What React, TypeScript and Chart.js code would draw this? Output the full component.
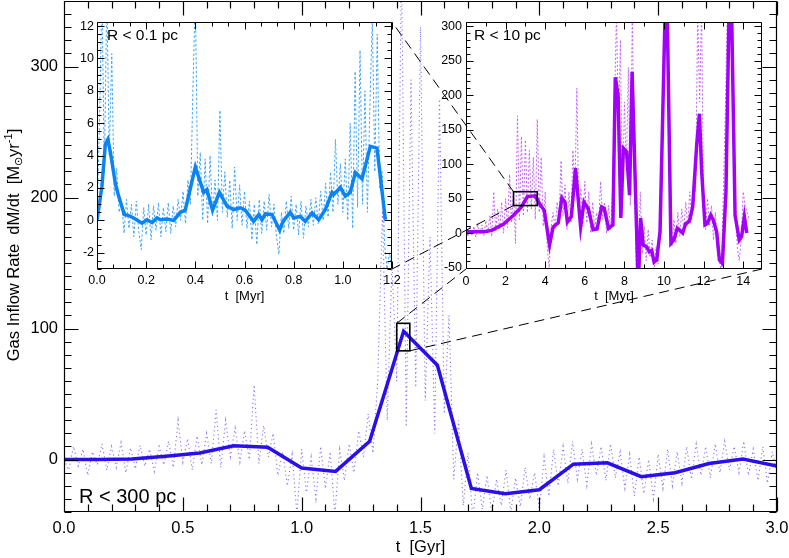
import React, { useEffect, useRef } from "react";
import { Chart, registerables } from "chart.js";

Chart.register(...registerables);

const FONT = "'Liberation Sans', Arial, Helvetica, sans-serif";

// ---------------- data ----------------
// Main panel: R < 300 pc, t in Gyr
const MAIN_DT = 0.02;
const mainRaw = [
  0, -8, 10, -5, 8, -12, 6, -4, 12, -8,
  10, -6, 13, -10, 9, -7, 11, -5, 8, -9,
  10, -4, 14, -6, 30, -2, 16, -8, 18, -4,
  20, -3, 38, -6, 30, 2, 24, -2, 22, 0,
  57, -3, 26, 2, 20, -12, 6, -20, 4, -42,
  8, -25, 2, -30, 10, -22, 6, -42, 8, -16,
  12, -10, 22, 2, 35, 5, 60, 190, 30, 150,
  60, 380, 25, 290, 55, 330, 45, 170, 20, 275,
  35, 110, -15, 30, -35, 5, -45, -10, -38, -12,
  -42, -15, -35, -8, -40, -14, -36, -6, -30, -10,
  -38, 2, -28, 8, -20, 10, -18, 14, -15, 8,
  -20, 12, -12, 10, -16, 12, -14, 6, -22, 4,
  -28, 2, -26, 0, -30, 4, -22, 8, -20, 6,
  -18, 10, -15, 12, -12, 10, -14, 12, -10, 14,
  -8, 10, -10, 14, -12, 8, -16, 10, -18, 6,
  -10,
];
const mainT = [0, 0.143, 0.286, 0.429, 0.571, 0.714, 0.857, 1.0, 1.143, 1.286, 1.429, 1.571, 1.714, 1.857, 2.0, 2.143, 2.286, 2.429, 2.571, 2.714, 2.857, 3.0];
const mainAvg = [0, 0, 0.5, 2.5, 5, 10.5, 9.5, -6.5, -9, 14, 98, 72, -22, -26, -23, -3.5, -2.5, -13, -10, -3, 0.5, -5];
const mainXTicks = [0, 0.5, 1.0, 1.5, 2.0, 2.5, 3.0];
const mainYTicks = [0, 100, 200, 300];
const mainZoomBox = [1.40, 1.455, 83, 104]; // x0, x1, y0, y1

// Inset 1: R < 0.1 pc, t in Myr
const IN1_DT = 0.01;
const in1Raw = [
  0, 6, 14, 3, 14, 4, 10.3, 1.5, 3.2, 0.5,
  1.2, -0.8, 1.3, -0.5, 1, -1, 1.2, -0.7, -1.8, 0.8,
  -0.9, 1, -1.2, 0.9, -0.6, 1.1, -1, 0.8, -0.7, 1.1,
  -0.8, 0.9, -0.4, 1.3, 0, 1.8, -0.2, 2.5, 1, 8,
  14, 1.5, 4.2, 0, 3.8, -0.2, 4, 0.3, 2.5, 0,
  6.8, 0.5, 3, 0.2, 2.5, -0.5, 3.3, 0, 2.2, -0.3,
  1.8, -0.5, 1.2, -1.2, 1, -1.5, 1.3, -0.8, 1.2, -0.6,
  1.6, -0.4, 1, -1, -2.1, 0.5, -0.8, 1.2, -0.5, 1.5,
  -0.6, 1, -0.9, 1.2, -1.1, 0.9, -0.4, 1.3, -0.3, 1.4,
  -0.2, 1.8, 0, 2.3, 0.2, 3, 0.5, 5, 1, 3.5,
  0.5, 3.8, 0, 6, -0.5, 9.2, 0.8, 10.5, 1, 8,
  0.5, 7, 12.5, 3, 11.5, 2, 3, -1.5, -3, -2,
  -3,
];
const in1T = [0, 0.02, 0.034, 0.044, 0.054, 0.075, 0.088, 0.111, 0.129, 0.149, 0.183, 0.203, 0.224, 0.244, 0.258, 0.285, 0.312, 0.339, 0.359, 0.40, 0.434, 0.447, 0.47, 0.498, 0.529, 0.556, 0.583, 0.603, 0.637, 0.658, 0.671, 0.685, 0.712, 0.743, 0.757, 0.786, 0.80, 0.827, 0.847, 0.875, 0.902, 0.929, 0.956, 0.963, 0.99, 1.01, 1.03, 1.051, 1.078, 1.112, 1.139, 1.173];
const in1Avg = [0, 2.1, 4.7, 5.0, 4.25, 2.25, 1.5, 0.36, 0.3, 0.15, -0.17, 0.04, -0.13, 0.15, 0.04, 0.08, 0, 0.5, 0.63, 3.3, 1.73, 1.9, 0.63, 1.73, 0.88, 0.67, 0.78, 0.63, -0.06, 0.36, 0.04, 0.4, 0.36, -0.6, -0.06, 0.5, 0.15, 0.25, -0.06, 0.46, 0.04, 0.67, 1.73, 1.6, 2.04, 1.5, 1.73, 2.95, 2.57, 4.57, 4.46, 0.04];
const in1XTicks = [0, 0.2, 0.4, 0.6, 0.8, 1.0, 1.2];
const in1YTicks = [-2, 0, 2, 4, 6, 8, 10, 12];

// Inset 2: R < 10 pc, t in Myr
const IN2_DT = 0.1;
const in2Raw = [
  5, -5, 12, -3, 10, -6, 14, -2, 12, -4,
  18, 0, 25, -5, 60, 2, 35, 5, 45, 0,
  50, 8, 85, 15, 60, -15, 170, 20, 140, 25,
  135, 30, 120, 35, 110, 20, 165, 30, 110, 10,
  60, -20, -50, 10, 30, 5, 45, 20, 105, 25,
  70, 5, 60, 15, 120, 60, 210, 20, 65, 10,
  75, 15, 60, 0, 45, 5, 30, 15, 75, 20,
  45, 0, 40, 5, 60, 180, 320, 150, 280, 30,
  190, 90, 240, 40, 320, 100, -60, -70, 60, -30,
  10, -40, 5, -35, -10, -55, -20, -45, 40, 150,
  320, 380, 320, 60, -20, 20, -15, 30, -5, 35,
  5, 45, 10, 60, 20, 80, 60, 320, 190, 320,
  40, 5, 50, 10, 40, -10, 30, -30, -40, -60,
  60, 180, 320, 400, 320, 150, 40, -20, -40, -10,
  60, 40, 30, 20,
];
const in2T = [0, 0.9, 1.3, 1.9, 2.4, 2.8, 3.1, 3.5, 3.75, 3.95, 4.22, 4.4, 4.66, 4.84, 5.0, 5.12, 5.32, 5.53, 5.79, 5.96, 6.18, 6.42, 6.62, 6.85, 6.98, 7.2, 7.42, 7.54, 7.68, 7.82, 7.95, 8.11, 8.26, 8.39, 8.7, 8.82, 8.95, 9.13, 9.26, 9.38, 9.5, 9.63, 9.8, 10.12, 10.35, 10.5, 10.67, 10.8, 10.94, 11.1, 11.28, 11.45, 11.65, 11.79, 11.9, 12.07, 12.19, 12.36, 12.49, 12.66, 12.8, 12.95, 13.13, 13.35, 13.59, 13.8, 13.92, 14.06, 14.18];
const in2Avg = [2, 2, 4, 13, 26, 38, 53, 54, 41, 33, -17, 9, 15, 51, 45, 16, 24, 94, 9, 45, 35, 5, 6, 38, 36, 7, 12, 226, 200, 22, 123, 118, 55, 234, -80, 22, -17, -20, -27, -25, -42, -39, 2, 400, -15, -10, 7, 4, 0, 14, 17, 38, 127, 173, 91, 12, 14, 26, 19, 2, -39, -44, 60, 430, 26, -10, -5, 24, 0];
const in2XTicks = [0, 2, 4, 6, 8, 10, 12, 14];
const in2YTicks = [-50, 0, 50, 100, 150, 200, 250, 300];
const in2ZoomBox = [2.4, 3.6, 40, 60];

// ---------------- helpers ----------------
const sampled = (vals: number[], dt: number) => vals.map((v, i) => ({ x: +(i * dt).toFixed(4), y: v }));
const paired = (xs: number[], ys: number[]) => xs.map((x, i) => ({ x, y: ys[i] }));

function frameTicksPlugin(cfg: { major: number; minor: number; xMinor: number; yMinor: number; width: number }) {
  return {
    id: "frameTicks",
    afterDatasetsDraw(chart: any) {
      const { ctx, chartArea: a } = chart;
      const xs = chart.scales.x, ys = chart.scales.y;
      const L = Math.round(a.left) + 0.5, R = Math.round(a.right) - 0.5;
      const T = Math.round(a.top) + 0.5, B = Math.round(a.bottom) - 0.5;
      ctx.save();
      ctx.strokeStyle = "#000";
      ctx.lineWidth = cfg.width;
      ctx.setLineDash([]);
      ctx.beginPath();
      ctx.rect(L, T, R - L, B - T);
      const xMaj = xs.ticks.map((t: any) => t.value);
      const yMaj = ys.ticks.map((t: any) => t.value);
      const isMaj = (arr: number[], v: number, st: number) => arr.some((m) => Math.abs(m - v) < st * 0.05);
      const xLine = (v: number, len: number) => {
        const p = Math.round(xs.getPixelForValue(v)) + 0.5;
        ctx.moveTo(p, B); ctx.lineTo(p, B - len);
        ctx.moveTo(p, T); ctx.lineTo(p, T + len);
      };
      const yLine = (v: number, len: number) => {
        const p = Math.round(ys.getPixelForValue(v)) + 0.5;
        ctx.moveTo(L, p); ctx.lineTo(L + len, p);
        ctx.moveTo(R, p); ctx.lineTo(R - len, p);
      };
      for (let k = Math.ceil(xs.min / cfg.xMinor - 1e-6); k * cfg.xMinor <= xs.max + 1e-9; k++) {
        const v = k * cfg.xMinor;
        xLine(v, isMaj(xMaj, v, cfg.xMinor) ? cfg.major : cfg.minor);
      }
      for (let k = Math.ceil(ys.min / cfg.yMinor - 1e-6); k * cfg.yMinor <= ys.max + 1e-9; k++) {
        const v = k * cfg.yMinor;
        yLine(v, isMaj(yMaj, v, cfg.yMinor) ? cfg.major : cfg.minor);
      }
      ctx.stroke();
      ctx.restore();
    },
  };
}

function boxPlugin(box: number[] | null) {
  return {
    id: "zoomBox",
    afterDatasetsDraw(chart: any) {
      if (!box) return;
      const { ctx } = chart;
      const xs = chart.scales.x, ys = chart.scales.y;
      const x0 = xs.getPixelForValue(box[0]), x1 = xs.getPixelForValue(box[1]);
      const y0 = ys.getPixelForValue(box[2]), y1 = ys.getPixelForValue(box[3]);
      ctx.save();
      ctx.strokeStyle = "#000";
      ctx.lineWidth = 1.6;
      ctx.setLineDash([]);
      ctx.strokeRect(x0, y1, x1 - x0, y0 - y1);
      ctx.restore();
    },
  };
}

type TextItem = { text: string; pos: (a: any) => [number, number]; size: number; align?: CanvasTextAlign; baseline?: CanvasTextBaseline };
function textPlugin(items: TextItem[], extra?: (chart: any) => void) {
  return {
    id: "texts",
    afterDraw(chart: any) {
      const { ctx, chartArea: a } = chart;
      ctx.save();
      ctx.fillStyle = "#000";
      for (const it of items) {
        const [x, y] = it.pos(a);
        ctx.font = `${it.size}px ${FONT}`;
        ctx.textAlign = it.align || "left";
        ctx.textBaseline = it.baseline || "alphabetic";
        ctx.fillText(it.text, x, y);
      }
      ctx.restore();
      if (extra) extra(chart);
    },
  };
}

function drawYTitle(chart: any) {
  const { ctx } = chart;
  const big = 16.5, small = 11;
  const parts: { t: string; s: number; dy: number }[] = [
    { t: "Gas Inflow Rate  dM/dt  [M", s: big, dy: 0 },
    { t: "\u2299", s: small, dy: 3 },
    { t: "yr", s: big, dy: 0 },
    { t: "-1", s: small, dy: -7 },
    { t: "]", s: big, dy: 0 },
  ];
  ctx.save();
  let total = 0;
  const widths = parts.map((p) => {
    ctx.font = `${p.s}px ${FONT}`;
    const w = ctx.measureText(p.t).width;
    total += w;
    return w;
  });
  ctx.translate(19, 245);
  ctx.rotate(-Math.PI / 2);
  ctx.fillStyle = "#000";
  ctx.textBaseline = "alphabetic";
  ctx.textAlign = "left";
  let x = -total / 2;
  parts.forEach((p, i) => {
    ctx.font = `${p.s}px ${FONT}`;
    ctx.fillText(p.t, x, p.dy);
    x += widths[i];
  });
  ctx.restore();
}

type PanelCfg = {
  xMin: number; xMax: number; yMin: number; yMax: number;
  xTicks: number[]; yTicks: number[]; xFmt: (v: number) => string;
  tickSize: number; yAxisW: number; xAxisH: number; padTop: number; padRight: number;
  xPad: number; yPad: number;
};

function makeOptions(c: PanelCfg) {
  return {
    responsive: false,
    animation: false as const,
    devicePixelRatio: 1,
    events: [],
    layout: { padding: { top: c.padTop, right: c.padRight, left: 0, bottom: 0 } },
    plugins: { legend: { display: false }, tooltip: { enabled: false }, title: { display: false } },
    elements: { point: { radius: 0 }, line: { tension: 0 } },
    scales: {
      x: {
        type: "linear" as const,
        min: c.xMin, max: c.xMax,
        grid: { display: false, drawTicks: false },
        border: { display: false },
        ticks: {
          color: "#000", font: { family: FONT, size: c.tickSize }, padding: c.xPad,
          maxRotation: 0, autoSkip: false, callback: (v: any) => c.xFmt(Number(v)),
        },
        afterBuildTicks: (s: any) => { s.ticks = c.xTicks.map((v) => ({ value: v })); },
        afterFit: (s: any) => { s.height = c.xAxisH; s.paddingLeft = 0; s.paddingRight = 0; },
      },
      y: {
        type: "linear" as const,
        min: c.yMin, max: c.yMax,
        grid: { display: false, drawTicks: false },
        border: { display: false },
        ticks: {
          color: "#000", font: { family: FONT, size: c.tickSize }, padding: c.yPad,
          autoSkip: false, callback: (v: any) => String(Number(v)),
        },
        afterBuildTicks: (s: any) => { s.ticks = c.yTicks.map((v) => ({ value: v })); },
        afterFit: (s: any) => { s.width = c.yAxisW; s.paddingTop = 0; s.paddingBottom = 0; },
      },
    },
  };
}

const POS = {
  main: { left: 0, top: 0, w: 789, h: 558 },
  in1: { left: 60, top: 10, w: 345, h: 310 },
  in2: { left: 430, top: 10, w: 345, h: 310 },
};

export default function App() {
  const mainRef = useRef<HTMLCanvasElement>(null);
  const in1Ref = useRef<HTMLCanvasElement>(null);
  const in2Ref = useRef<HTMLCanvasElement>(null);
  const ovRef = useRef<HTMLCanvasElement>(null);

  useEffect(() => {
    const main = new Chart(mainRef.current as HTMLCanvasElement, {
      type: "line",
      data: {
        datasets: [
          { data: paired(mainT, mainAvg), borderColor: "#2a10e8", borderWidth: 3.5, pointRadius: 0, borderJoinStyle: "miter" },
          { data: sampled(mainRaw, MAIN_DT), borderColor: "rgba(95,75,240,0.75)", borderWidth: 1.1, borderDash: [1.2, 3], pointRadius: 0 },
        ],
      },
      options: makeOptions({
        xMin: 0, xMax: 3, yMin: -40, yMax: 350, xTicks: mainXTicks, yTicks: mainYTicks,
        xFmt: (v) => v.toFixed(1), tickSize: 16.5, yAxisW: 64, xAxisH: 46, padTop: 1, padRight: 12,
        xPad: 7, yPad: 6,
      }) as any,
      plugins: [
        frameTicksPlugin({ major: 14, minor: 7, xMinor: 0.1, yMinor: 10, width: 1.2 }),
        boxPlugin(mainZoomBox),
        textPlugin(
          [
            { text: "R < 300 pc", pos: (a) => [a.left + 15, a.bottom - 9], size: 20 },
            { text: "t  [Gyr]", pos: (a) => [(a.left + a.right) / 2, 552], size: 16.5, align: "center" },
          ],
          drawYTitle
        ),
      ],
    });

    const in1 = new Chart(in1Ref.current as HTMLCanvasElement, {
      type: "line",
      data: {
        datasets: [
          { data: paired(in1T, in1Avg), borderColor: "#0a84f2", borderWidth: 3.5, pointRadius: 0 },
          { data: sampled(in1Raw, IN1_DT), borderColor: "#45a6f6", borderWidth: 1, borderDash: [2.5, 2], pointRadius: 0 },
        ],
      },
      options: makeOptions({
        xMin: 0, xMax: 1.2, yMin: -3, yMax: 12.25, xTicks: in1XTicks, yTicks: in1YTicks,
        xFmt: (v) => v.toFixed(1), tickSize: 12.5, yAxisW: 37, xAxisH: 51, padTop: 12, padRight: 13,
        xPad: 4, yPad: 3,
      }) as any,
      plugins: [
        frameTicksPlugin({ major: 7, minor: 4, xMinor: 0.2 / 3, yMinor: 0.5, width: 1 }),
        textPlugin([
          { text: "R < 0.1 pc", pos: (a) => [a.left + 10, a.top + 18], size: 15.5 },
          { text: "t  [Myr]", pos: (a) => [(a.left + a.right) / 2, a.bottom + 31], size: 13, align: "center" },
        ]),
      ],
    });

    const in2 = new Chart(in2Ref.current as HTMLCanvasElement, {
      type: "line",
      data: {
        datasets: [
          { data: paired(in2T, in2Avg), borderColor: "#a300f7", borderWidth: 3.5, pointRadius: 0 },
          { data: sampled(in2Raw, IN2_DT), borderColor: "#c462f8", borderWidth: 1, borderDash: [2, 2], pointRadius: 0 },
        ],
      },
      options: makeOptions({
        xMin: 0, xMax: 14.95, yMin: -52, yMax: 306, xTicks: in2XTicks, yTicks: in2YTicks,
        xFmt: (v) => String(v), tickSize: 12.5, yAxisW: 36, xAxisH: 51, padTop: 12, padRight: 13,
        xPad: 5, yPad: 4,
      }) as any,
      plugins: [
        frameTicksPlugin({ major: 7, minor: 4, xMinor: 1, yMinor: 10, width: 1 }),
        boxPlugin(in2ZoomBox),
        textPlugin([
          { text: "R < 10 pc", pos: (a) => [a.left + 8, a.top + 18], size: 15.5 },
          { text: "t  [Myr]", pos: (a) => [(a.left + a.right) / 2, a.bottom + 31], size: 13, align: "center" },
        ]),
      ],
    });

    // dashed connector lines across panels
    const ov = ovRef.current as HTMLCanvasElement;
    const octx = ov.getContext("2d") as CanvasRenderingContext2D;
    octx.clearRect(0, 0, ov.width, ov.height);
    const pm = (x: number, y: number): [number, number] => [
      POS.main.left + main.scales.x.getPixelForValue(x),
      POS.main.top + main.scales.y.getPixelForValue(y),
    ];
    const p2 = (x: number, y: number): [number, number] => [
      POS.in2.left + in2.scales.x.getPixelForValue(x),
      POS.in2.top + in2.scales.y.getPixelForValue(y),
    ];
    const a1 = in1.chartArea, a2 = in2.chartArea;
    const lines: [[number, number], [number, number]][] = [
      [pm(mainZoomBox[0], mainZoomBox[3]), [POS.in2.left + a2.left, POS.in2.top + a2.bottom]],
      [pm(mainZoomBox[1], mainZoomBox[2]), [POS.in2.left + a2.right, POS.in2.top + a2.bottom]],
      [p2(in2ZoomBox[0], in2ZoomBox[3]), [POS.in1.left + a1.right, POS.in1.top + a1.top]],
      [p2(in2ZoomBox[0], in2ZoomBox[2]), [POS.in1.left + a1.right, POS.in1.top + a1.bottom]],
    ];
    octx.save();
    octx.strokeStyle = "#000";
    octx.lineWidth = 1;
    octx.setLineDash([10, 6]);
    for (const [s, e] of lines) {
      octx.beginPath();
      octx.moveTo(s[0], s[1]);
      octx.lineTo(e[0], e[1]);
      octx.stroke();
    }
    octx.restore();

    return () => {
      main.destroy();
      in1.destroy();
      in2.destroy();
      octx.clearRect(0, 0, ov.width, ov.height);
    };
  }, []);

  const abs = (p: { left: number; top: number; w: number; h: number }) => ({
    position: "absolute" as const, left: p.left, top: p.top, width: p.w, height: p.h,
  });

  return (
    <div style={{ position: "absolute", left: 0, top: 0, width: 789, height: 558, background: "#fff", overflow: "hidden" }}>
      <canvas ref={mainRef} width={POS.main.w} height={POS.main.h} style={abs(POS.main)} />
      <canvas ref={in1Ref} width={POS.in1.w} height={POS.in1.h} style={abs(POS.in1)} />
      <canvas ref={in2Ref} width={POS.in2.w} height={POS.in2.h} style={abs(POS.in2)} />
      <canvas ref={ovRef} width={789} height={558} style={{ ...abs(POS.main), pointerEvents: "none" }} />
    </div>
  );
}
